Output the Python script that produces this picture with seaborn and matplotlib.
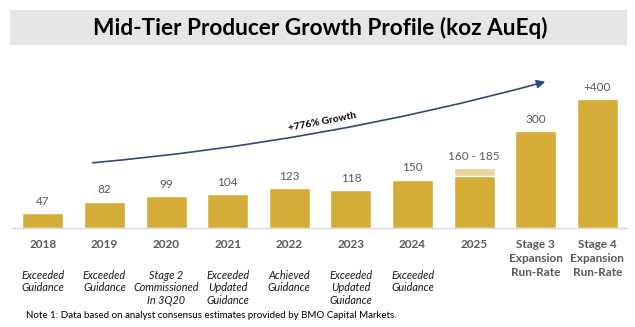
import matplotlib
matplotlib.use("Agg")
import matplotlib.pyplot as plt
import seaborn as sns
from matplotlib.patches import Rectangle, FancyArrowPatch

categories = ["2018", "2019", "2020", "2021", "2022", "2023", "2024", "2025",
              "Stage 3\nExpansion\nRun-Rate", "Stage 4\nExpansion\nRun-Rate"]
values = [47, 82, 99, 104, 123, 118, 150, 160, 300, 400]
range_high = [47, 82, 99, 104, 123, 118, 150, 185, 300, 400]
value_labels = ["47", "82", "99", "104", "123", "118", "150", "160 - 185", "300", "+400"]
notes = ["Exceeded\nGuidance", "Exceeded\nGuidance", "Stage 2\nCommissioned\nIn 3Q20",
         "Exceeded\nUpdated\nGuidance", "Achieved\nGuidance", "Exceeded\nUpdated\nGuidance",
         "Exceeded\nGuidance", "", "", ""]
title = "Mid-Tier Producer Growth Profile (koz AuEq)"
growth_text = "+776% Growth"
footnote = "Note 1: Data based on analyst consensus estimates provided by BMO Capital Markets."

sns.set_theme(style="white")
plt.rcParams["font.family"] = ["Lato", "DejaVu Sans"]

W, H = 635, 327
fig = plt.figure(figsize=(W / 100, H / 100), dpi=100)

def fx(px):
    return px / W

def fy(py):
    return 1 - py / H

# Title box
fig.patches.append(Rectangle((fx(10), fy(45)), fx(617), 35 / H, transform=fig.transFigure,
                             facecolor="#e7e6e6", edgecolor="none", zorder=0))
fig.text(fx(320), fy(27.5), title, ha="center", va="center", fontsize=16.3,
         fontweight="bold", color="#000000")

ax = fig.add_axes([fx(12), fy(228), fx(615), (228 - 60) / H])
gold = "#d3ad38"
light = "#ead59c"
sns.barplot(x=categories, y=range_high, color=light, width=0.665, ax=ax, saturation=1)
sns.barplot(x=categories, y=values, color=gold, width=0.665, ax=ax, saturation=1)

ax.set_xlim(-0.5, 9.48)
ax.set_ylim(0, 521)
for s in ["top", "right", "left"]:
    ax.spines[s].set_visible(False)
ax.spines["bottom"].set_color("#d9d9d9")
ax.spines["bottom"].set_linewidth(1)
ax.set_yticks([])
ax.set_ylabel("")
ax.tick_params(axis="x", length=0, pad=8)
ax.set_xticks(range(len(categories)))
ax.set_xticklabels(categories, fontsize=8.5, fontweight="bold", color="#595959",
                   va="top", linespacing=1.3)

for i, (h, lab) in enumerate(zip(range_high, value_labels)):
    ax.annotate(lab, (i, h), xytext=(0, 8.5), textcoords="offset points",
                ha="center", va="center", fontsize=8.5, color="#595959")

tr = ax.get_xaxis_transform()
for i, n in enumerate(notes):
    if n:
        ax.text(i, -(270 - 228) / 168, n, transform=tr, ha="center", va="top",
                fontsize=7.8, fontstyle="italic", color="#1a1a1a", linespacing=1.15)

# Growth arrow
x0 = (90 - 43) / 61.6
y0 = (228 - 163) / 0.3225
x1 = (548 - 43) / 61.6
y1 = (228 - 81) / 0.3225
arrow = FancyArrowPatch((x0, y0), (x1, y1), connectionstyle="arc3,rad=0.045",
                        arrowstyle="-|>,head_length=5,head_width=2.5",
                        color="#2f4a7a", lw=1.2, clip_on=False)
ax.add_patch(arrow)
gx = (322 - 43) / 61.6
gy = (228 - 122) / 0.3225
ax.text(gx, gy, growth_text, ha="center", va="center", fontsize=7.3, fontweight="bold",
        rotation=11, color="#000000")

fig.text(fx(26), fy(316), footnote, ha="left", va="center", fontsize=7.0, color="#000000")

fig.savefig("out.png", dpi=100)
